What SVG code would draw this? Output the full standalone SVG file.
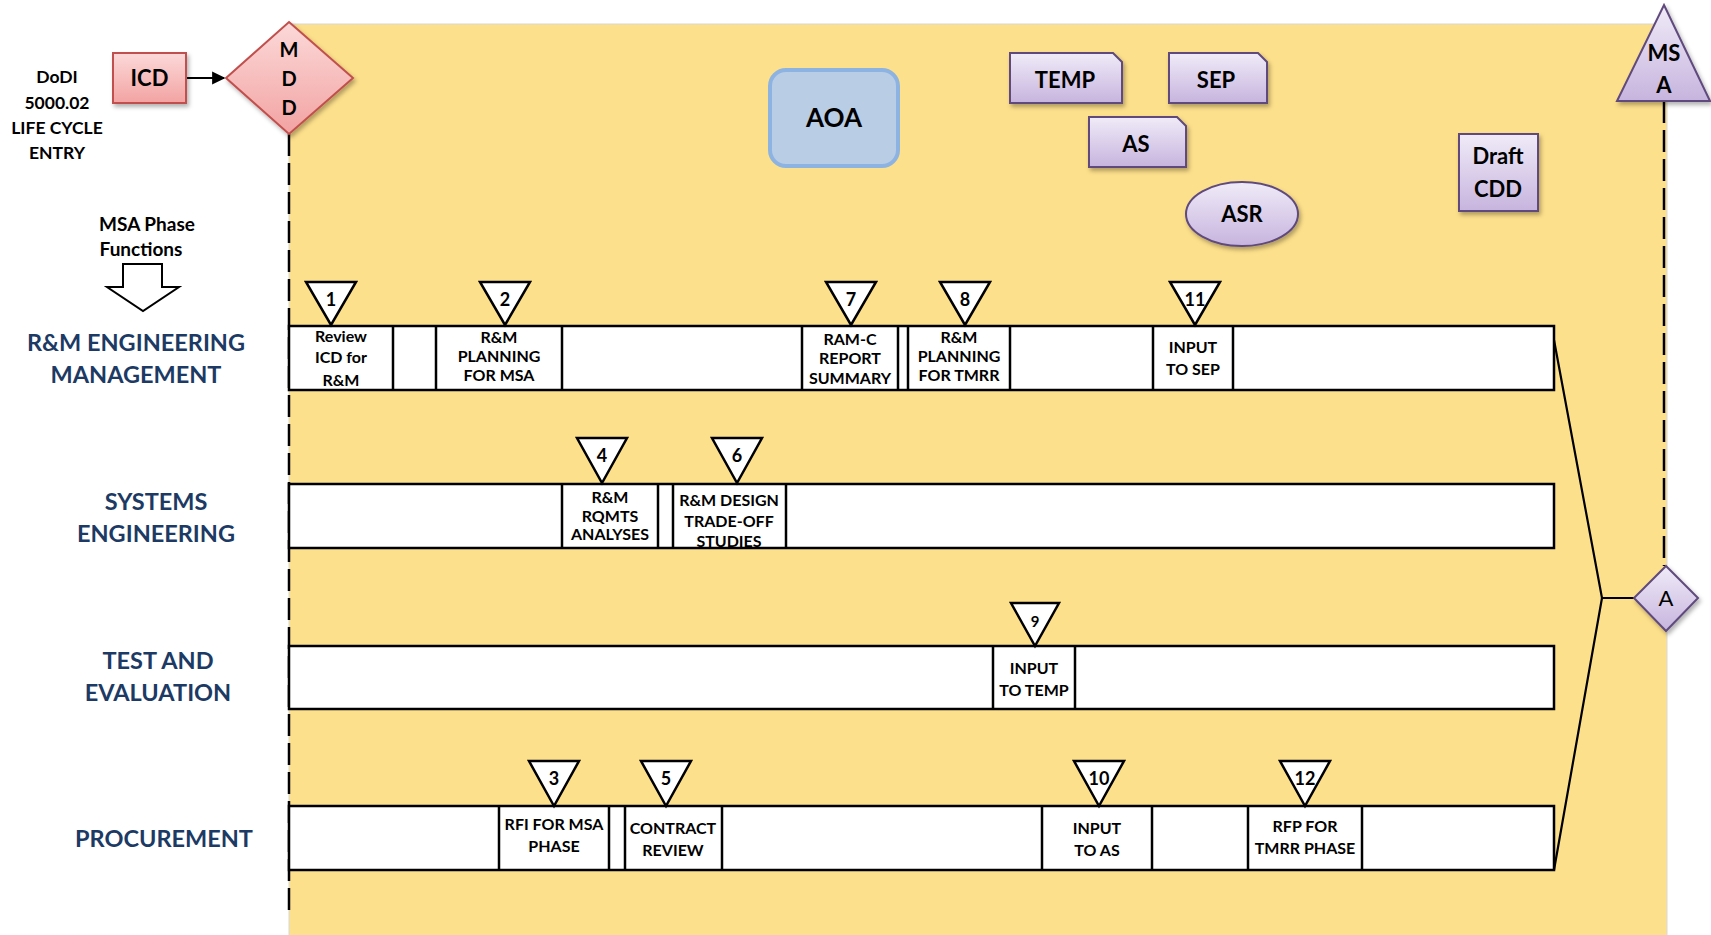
<svg xmlns="http://www.w3.org/2000/svg" width="1711" height="935" viewBox="0 0 1711 935">
  <defs>
    <linearGradient id="gPurple" x1="0" y1="0" x2="0" y2="1">
      <stop offset="0" stop-color="#f0ebf8"/>
      <stop offset="1" stop-color="#c7b4de"/>
    </linearGradient>
    <linearGradient id="gPink" x1="0" y1="0" x2="0" y2="1">
      <stop offset="0" stop-color="#fcd9d9"/>
      <stop offset="1" stop-color="#f2a3a2"/>
    </linearGradient>
    <filter id="shadow" x="-20%" y="-20%" width="140%" height="150%">
      <feDropShadow dx="2" dy="3" stdDeviation="2" flood-color="#000" flood-opacity="0.3"/>
    </filter>
    <marker id="arrowHead" viewBox="0 0 10 10" refX="9" refY="5" markerWidth="6" markerHeight="6" orient="auto" markerUnits="strokeWidth">
      <path d="M0,0 L10,5 L0,10 z" fill="#000"/>
    </marker>
  </defs>
  <style>
    text { font-family: Lato, "Liberation Sans", sans-serif; font-weight: bold; text-anchor: middle; fill: #000; }
    .lane { font-size: 23.5px; fill: #1c3a64; }
    .note { font-size: 17.5px; }
    .box { fill: #fff; stroke: #000; stroke-width: 2.5; }
    .lbl { font-size: 16px; }
    .tri { fill: #fff; stroke: #000; stroke-width: 2.5; stroke-linejoin: miter; }
    .num { font-size: 18px; }
    .purple { fill: url(#gPurple); stroke: #5f4a7d; stroke-width: 2; filter: url(#shadow); }
    .pink { fill: url(#gPink); stroke: #c0504d; stroke-width: 2; filter: url(#shadow); }
    .doc { font-size: 22px; }
    .dash { stroke: #000; stroke-width: 2.5; stroke-dasharray: 22 7; fill: none; }
    .link { stroke: #000; stroke-width: 2.2; fill: none; }
  </style>

  <rect width="1711" height="935" fill="#fff"/>
  <!-- MSA phase band -->
  <rect id="phase-band" x="289" y="24" width="1378" height="920" fill="#fde08b" stroke="#d8d8d8" stroke-width="1"/>

  <!-- left-hand notes -->
  <g id="lifecycle-entry">
    <text class="note" x="57" y="83">DoDI</text>
    <text class="note" x="57" y="109">5000.02</text>
    <text class="note" x="57" y="134">LIFE CYCLE</text>
    <text class="note" x="57" y="159">ENTRY</text>
  </g>
  <g id="phase-functions">
    <text class="note" style="font-size:19px" x="147" y="231">MSA Phase</text>
    <text class="note" style="font-size:19px" x="141" y="256">Functions</text>
    <path d="M123,264 H162 V287 H179 L143,311 L107,287 H123 Z" fill="#fff" stroke="#000" stroke-width="2"/>
  </g>

  <!-- lane titles -->
  <g id="lane-rm">
    <text class="lane" x="136" y="351">R&amp;M ENGINEERING</text>
    <text class="lane" x="136" y="383">MANAGEMENT</text>
  </g>
  <g id="lane-se">
    <text class="lane" x="156" y="510">SYSTEMS</text>
    <text class="lane" x="156" y="542">ENGINEERING</text>
  </g>
  <g id="lane-te">
    <text class="lane" x="158" y="669">TEST AND</text>
    <text class="lane" x="158" y="701">EVALUATION</text>
  </g>
  <g id="lane-proc">
    <text class="lane" x="164" y="847">PROCUREMENT</text>
  </g>

  <!-- connectors -->
  <g id="connectors">
    <line class="link" x1="186" y1="78" x2="224" y2="78" marker-end="url(#arrowHead)"/>
    <line class="dash" x1="289" y1="134" x2="289" y2="916"/>
    <line class="dash" x1="1664" y1="101" x2="1664" y2="566"/>
    <polyline class="link" points="1554,340 1602,598 1554,870"/>
    <line class="link" x1="1602" y1="598" x2="1635" y2="598"/>
  </g>

  <!-- milestones and documents -->
  <g id="icd">
    <rect class="pink" x="113" y="53" width="73" height="50"/>
    <text class="doc" x="149.5" y="86">ICD</text>
  </g>
  <g id="mdd">
    <polygon class="pink" points="289,22 353,78 289,134 226,78"/>
    <text style="font-size:20px" x="289" y="57">M</text>
    <text style="font-size:20px" x="289" y="86">D</text>
    <text style="font-size:20px" x="289" y="115">D</text>
  </g>
  <g id="aoa">
    <rect x="770" y="70" width="128" height="96" rx="16" ry="16" fill="#b9cde5" stroke="#8db3e2" stroke-width="4"/>
    <text style="font-size:26px" x="834" y="127">AOA</text>
  </g>
  <g id="temp">
    <path class="purple" d="M1010,53 H1113 L1122,62 V103 H1010 Z"/>
    <text class="doc" x="1065" y="88">TEMP</text>
  </g>
  <g id="sep">
    <path class="purple" d="M1169,53 H1258 L1267,62 V103 H1169 Z"/>
    <text class="doc" x="1216" y="88">SEP</text>
  </g>
  <g id="as">
    <path class="purple" d="M1089,117 H1177 L1186,126 V167 H1089 Z"/>
    <text class="doc" x="1136" y="152">AS</text>
  </g>
  <g id="asr">
    <ellipse class="purple" cx="1242" cy="214" rx="56" ry="32"/>
    <text class="doc" x="1242" y="222">ASR</text>
  </g>
  <g id="draft-cdd">
    <rect class="purple" x="1459" y="134" width="79" height="77"/>
    <text class="doc" x="1498" y="164">Draft</text>
    <text class="doc" x="1498" y="197">CDD</text>
  </g>
  <g id="ms-a">
    <polygon class="purple" points="1664,5 1710,101 1617,101"/>
    <text class="doc" x="1664" y="61">MS</text>
    <text class="doc" x="1664" y="93">A</text>
  </g>
  <g id="gate-a">
    <polygon class="purple" points="1666,566 1698,598 1666,631 1634,598"/>
    <text style="font-size:22px;font-weight:normal" x="1666" y="606">A</text>
  </g>

  <!-- R&M engineering management lane -->
  <g id="bar-rm">
    <rect class="box" x="289" y="326" width="1265" height="64"/>
    <line class="box" x1="393" y1="326" x2="393" y2="390"/>
    <line class="box" x1="436" y1="326" x2="436" y2="390"/>
    <line class="box" x1="562" y1="326" x2="562" y2="390"/>
    <line class="box" x1="802" y1="326" x2="802" y2="390"/>
    <line class="box" x1="898" y1="326" x2="898" y2="390"/>
    <line class="box" x1="908" y1="326" x2="908" y2="390"/>
    <line class="box" x1="1010" y1="326" x2="1010" y2="390"/>
    <line class="box" x1="1153" y1="326" x2="1153" y2="390"/>
    <line class="box" x1="1233" y1="326" x2="1233" y2="390"/>
  </g>
  <g id="task-1">
    <polygon class="tri" points="306,282 356,282 331,325"/>
    <text class="num" x="331" y="306">1</text>
    <text class="lbl" x="341" y="342">Review</text>
    <text class="lbl" x="341" y="363">ICD for</text>
    <text class="lbl" x="341" y="386">R&amp;M</text>
  </g>
  <g id="task-2">
    <polygon class="tri" points="480,282 530,282 505,325"/>
    <text class="num" x="505" y="306">2</text>
    <text class="lbl" x="499" y="343">R&amp;M</text>
    <text class="lbl" x="499" y="362">PLANNING</text>
    <text class="lbl" x="499" y="381">FOR MSA</text>
  </g>
  <g id="task-7">
    <polygon class="tri" points="826,282 876,282 851,325"/>
    <text class="num" x="851" y="306">7</text>
    <text class="lbl" x="850" y="345">RAM-C</text>
    <text class="lbl" x="850" y="364">REPORT</text>
    <text class="lbl" x="850" y="384">SUMMARY</text>
  </g>
  <g id="task-8">
    <polygon class="tri" points="940,282 990,282 965,325"/>
    <text class="num" x="965" y="306">8</text>
    <text class="lbl" x="959" y="343">R&amp;M</text>
    <text class="lbl" x="959" y="362">PLANNING</text>
    <text class="lbl" x="959" y="381">FOR TMRR</text>
  </g>
  <g id="task-11">
    <polygon class="tri" points="1170,282 1220,282 1195,325"/>
    <text class="num" x="1195" y="306">11</text>
    <text class="lbl" x="1193" y="353">INPUT</text>
    <text class="lbl" x="1193" y="375">TO SEP</text>
  </g>

  <!-- systems engineering lane -->
  <g id="bar-se">
    <rect class="box" x="289" y="484" width="1265" height="64"/>
    <line class="box" x1="562" y1="484" x2="562" y2="548"/>
    <line class="box" x1="658" y1="484" x2="658" y2="548"/>
    <line class="box" x1="673" y1="484" x2="673" y2="548"/>
    <line class="box" x1="786" y1="484" x2="786" y2="548"/>
  </g>
  <g id="task-4">
    <polygon class="tri" points="577,438 627,438 602,483"/>
    <text class="num" x="602" y="462">4</text>
    <text class="lbl" x="610" y="503">R&amp;M</text>
    <text class="lbl" x="610" y="522">RQMTS</text>
    <text class="lbl" x="610" y="540">ANALYSES</text>
  </g>
  <g id="task-6">
    <polygon class="tri" points="712,438 762,438 737,483"/>
    <text class="num" x="737" y="462">6</text>
    <text class="lbl" x="729" y="506">R&amp;M DESIGN</text>
    <text class="lbl" x="729" y="527">TRADE-OFF</text>
    <text class="lbl" x="729" y="547">STUDIES</text>
  </g>

  <!-- test and evaluation lane -->
  <g id="bar-te">
    <rect class="box" x="289" y="646" width="1265" height="63"/>
    <line class="box" x1="993" y1="646" x2="993" y2="709"/>
    <line class="box" x1="1075" y1="646" x2="1075" y2="709"/>
  </g>
  <g id="task-9">
    <polygon class="tri" points="1011,603 1059,603 1035,646"/>
    <text class="num" style="font-size:15px" x="1035" y="627">9</text>
    <text class="lbl" x="1034" y="674">INPUT</text>
    <text class="lbl" x="1034" y="696">TO TEMP</text>
  </g>

  <!-- procurement lane -->
  <g id="bar-proc">
    <rect class="box" x="289" y="806" width="1265" height="64"/>
    <line class="box" x1="499" y1="806" x2="499" y2="870"/>
    <line class="box" x1="609" y1="806" x2="609" y2="870"/>
    <line class="box" x1="625" y1="806" x2="625" y2="870"/>
    <line class="box" x1="722" y1="806" x2="722" y2="870"/>
    <line class="box" x1="1042" y1="806" x2="1042" y2="870"/>
    <line class="box" x1="1152" y1="806" x2="1152" y2="870"/>
    <line class="box" x1="1248" y1="806" x2="1248" y2="870"/>
    <line class="box" x1="1362" y1="806" x2="1362" y2="870"/>
  </g>
  <g id="task-3">
    <polygon class="tri" points="529,761 579,761 554,806"/>
    <text class="num" x="554" y="785">3</text>
    <text class="lbl" x="554" y="830">RFI FOR MSA</text>
    <text class="lbl" x="554" y="852">PHASE</text>
  </g>
  <g id="task-5">
    <polygon class="tri" points="641,761 691,761 666,806"/>
    <text class="num" x="666" y="785">5</text>
    <text class="lbl" x="673" y="834">CONTRACT</text>
    <text class="lbl" x="673" y="856">REVIEW</text>
  </g>
  <g id="task-10">
    <polygon class="tri" points="1074,761 1124,761 1099,806"/>
    <text class="num" x="1099" y="785">10</text>
    <text class="lbl" x="1097" y="834">INPUT</text>
    <text class="lbl" x="1097" y="856">TO AS</text>
  </g>
  <g id="task-12">
    <polygon class="tri" points="1280,761 1330,761 1305,806"/>
    <text class="num" x="1305" y="785">12</text>
    <text class="lbl" x="1305" y="832">RFP FOR</text>
    <text class="lbl" x="1305" y="854">TMRR PHASE</text>
  </g>
</svg>
